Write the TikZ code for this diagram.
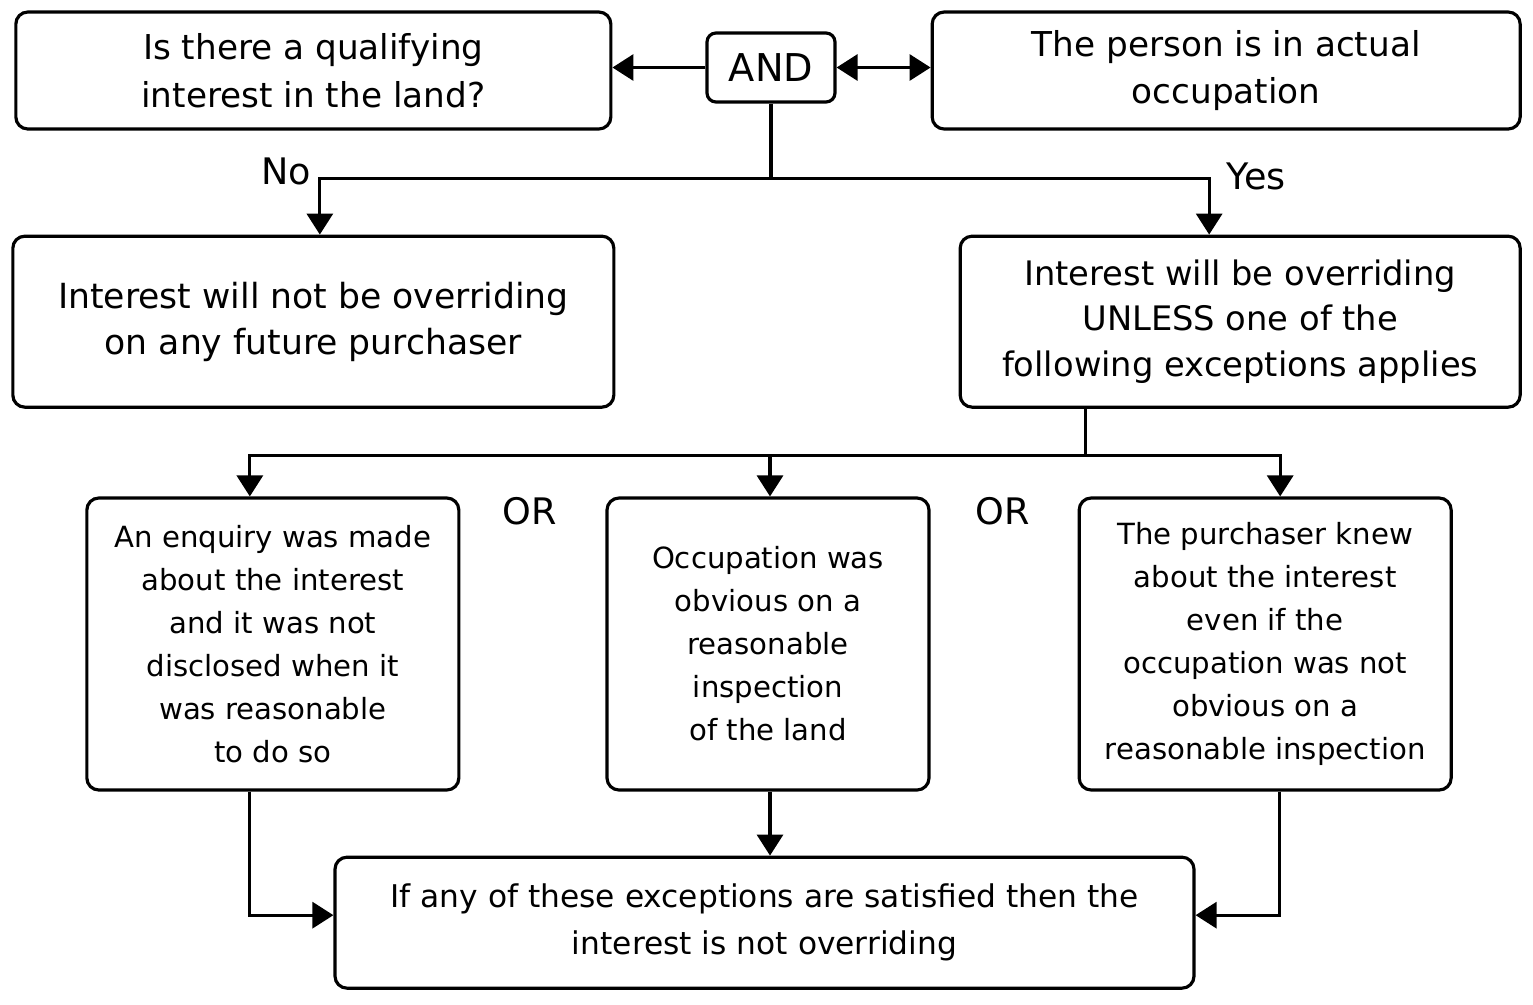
\documentclass[tikz,border=0pt]{standalone}
\usepackage{fontspec}
\setmainfont{DejaVu Sans}
\usepackage{tikz}
\usetikzlibrary{arrows.meta, calc, positioning}
\tikzstyle{flowbox} = [draw, rectangle, rounded corners=0.24cm, line width=1.8pt, align=center, inner sep=0pt, font=\fontsize{19.5}{26}\selectfont]
\tikzstyle{topbox} = [flowbox, minimum width=11.9cm, minimum height=2.34cm, font=\fontsize{19.5}{27.2}\selectfont]
\tikzstyle{resultbox} = [flowbox, minimum height=3.42cm]
\tikzstyle{exceptionbox} = [flowbox, minimum height=5.84cm, font=\fontsize{16.6}{24.5}\selectfont]
\tikzstyle{flowline} = [line width=1.8pt]
\tikzstyle{flowarrow} = [flowline, -{Triangle[length=0.42cm, width=0.52cm]}]
\tikzstyle{flowlabel} = [font=\fontsize{20.8}{24}\selectfont]

\begin{document}
\begin{tikzpicture}
	\useasboundingbox (0,0) rectangle (30.66,-20.08);
		\node (and) [flowbox, minimum width=2.56cm, minimum height=1.38cm, rounded corners=0.18cm, font=\fontsize{21.8}{24}\selectfont] at (15.42,-1.35) {AND};
		\node (interest) [topbox, left = 1.86cm of and, yshift=-0.06cm] {Is there a qualifying\\interest in the land?};
		\node (occupation) [topbox, minimum width=11.76cm, right = 1.88cm of and, yshift=-0.06cm] {The person is in actual\\occupation};
		\node (notover) [resultbox, minimum width=12.02cm, below = 2.08cm of interest, font=\fontsize{19.7}{26}\selectfont] {Interest will not be overriding\\on any future purchaser};
		\node (over) [resultbox, minimum width=11.2cm, below = 2.08cm of occupation, xshift=0.28cm, font=\fontsize{19.2}{26}\selectfont] {Interest will be overriding\\UNLESS one of the\\following exceptions applies};
		\node (obvious) [exceptionbox, minimum width=6.44cm] at (15.36,-12.88) {Occupation was\\obvious on a\\reasonable\\inspection\\of the land};
		\node (enquiry) [exceptionbox, minimum width=7.44cm, left = 2.9cm of obvious] {An enquiry was made\\about the interest\\and it was not\\disclosed when it\\was reasonable\\to do so};
		\node (knew) [exceptionbox, minimum width=7.44cm, right = 2.94cm of obvious] {The purchaser knew\\about the interest\\even if the\\occupation was not\\obvious on a\\reasonable inspection};
		\node (final) [flowbox, minimum width=17.18cm, minimum height=2.62cm, below = 1.28cm of obvious, xshift=-0.07cm, font=\fontsize{17.8}{26.7}\selectfont] {If any of these exceptions are satisfied then the\\interest is not overriding};
		% top row
		\draw [flowarrow] (and) -- (and -| interest.east);
		\draw [flowarrow, {Triangle[length=0.42cm, width=0.52cm]}-{Triangle[length=0.42cm, width=0.52cm]}] (and) -- (and -| occupation.west);
		\draw [flowline] (and.south) -- ++(0,-1.5) coordinate (split);
		\draw [flowarrow] (split) -| ([xshift=0.13cm]notover.north);
		\draw [flowarrow] (split) -| ([xshift=-0.62cm]over.north);
		\node (no) [flowlabel] at (5.72,-3.42) {No};
		\node (yes) [flowlabel] at (25.12,-3.52) {Yes};
		% exceptions
		\draw [flowline] ([xshift=-3.1cm]over.south) -- ++(0,-0.94) coordinate (fork);
		\draw [flowarrow] (fork) -| ([xshift=-0.46cm]enquiry.north);
		\draw [flowarrow] (fork) -| ([xshift=0.04cm]obvious.north);
		\draw [flowarrow] (fork) -| ([xshift=0.3cm]knew.north);
		\node (or1) [flowlabel] at (10.6,-10.22) {OR};
		\node (or2) [flowlabel] at (20.06,-10.22) {OR};
		% result
		\coordinate (join) at ([xshift=0.04cm]obvious.south);
		\draw [flowarrow] ([xshift=-0.46cm]enquiry.south) |- ([yshift=0.15cm]final.west);
		\draw [flowarrow] (join) -- (join |- final.north);
		\draw [flowarrow] ([xshift=0.28cm]knew.south) |- ([yshift=0.15cm]final.east);
	\end{tikzpicture}
\end{document}
